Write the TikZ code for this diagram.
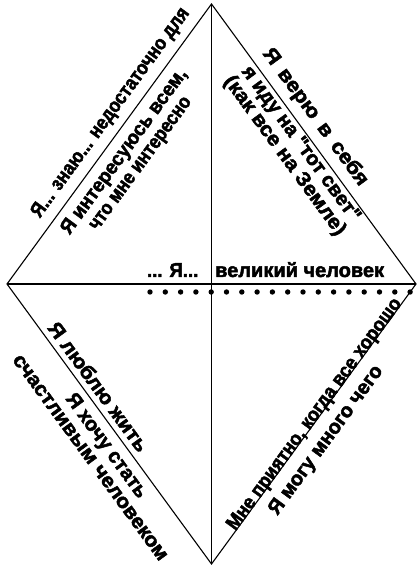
\documentclass[tikz,border=0pt]{standalone}
\usepackage{fontspec}
\usepackage{graphicx}
\setmainfont{Liberation Sans}
\newfontfamily\heavyfont[FakeBold=2.4]{Liberation Sans Bold}
\usetikzlibrary{calc}
\newcommand{\fitw}[2]{\scalebox{#1}[1]{#2}}
\tikzset{
  edge/.style={line width=1.1pt, line join=miter},
  axis/.style={line width=1.6pt},
  txt/.style={font=\heavyfont\fontsize{20}{20}\selectfont, inner sep=0pt},
  blk/.style={txt, align=center},
}

\begin{document}
\begin{tikzpicture}[x=1pt,y=1pt]
  \useasboundingbox (0,0) rectangle (417,569);
  % diamond corners
  \coordinate (T) at (211.5,565);
  \coordinate (B) at (211.5,5);
  \coordinate (L) at (7,285);
  \coordinate (R) at (416,285);
  \coordinate (C) at (211.5,285);
  \draw[edge] (T) -- (R) -- (B) -- (L) -- cycle;
  \draw[axis] (T) -- (B);
  \draw[axis] (L) -- (R);
  % dotted row under the middle line
  \foreach \i in {0,...,17}
    \fill (150+15.3*\i,277) circle (2.7);
  % middle words
  \node[txt, anchor=base east] (me) at ($(C)+(-13,7)$) {\fitw{0.93}{... Я...}};
  \node[txt, anchor=base west] (great) at ($(C)+(3.5,7)$) {великий человек};
  % upper left
  \node[txt, rotate=53.85] (know) at ($(L)!0.575!(T)!17pt!90:(T)$) {\fitw{0.87}{Я... знаю... недостаточно для}};
  \node[blk, rotate=53.85] (interest) at ($(L)!0.508!(T)!27pt!270:(T)$) {\fitw{0.95}{Я интересуюсь всем,}\\\fitw{0.86}{что мне интересно}};
  % upper right
  \node[txt, rotate=-53.85] (believe) at ($(T)!0.44!(R)!17pt!90:(R)$) {\fitw{1.1}{Я\hspace{0.42em}верю\hspace{0.42em}в\hspace{0.42em}себя}};
  \node[blk, rotate=-53.85] (go) at ($(T)!0.478!(R)!21pt!270:(R)$) {я иду на "тот свет"\\\fitw{1.07}{(как все на Земле)}};
  % lower left
  \node[txt, rotate=-53.85] (love) at ($(L)!0.395!(B)!13.5pt!90:(B)$) {\fitw{1.07}{Я люблю жить}};
  \node[blk, rotate=-53.85] (want) at ($(L)!0.546!(B)!24pt!270:(B)$) {Я хочу стать\\\fitw{1.06}{счастливым человеком}};
  % lower right
  \node[txt, rotate=53.85] (pleasant) at ($(B)!0.524!(R)!4.5pt!90:(R)$) {\fitw{0.9}{Мне приятно, когда все хорошо}};
  \node[txt, rotate=53.85] (can) at ($(B)!0.483!(R)!20pt!270:(R)$) {Я могу много чего};
\end{tikzpicture}
\end{document}
